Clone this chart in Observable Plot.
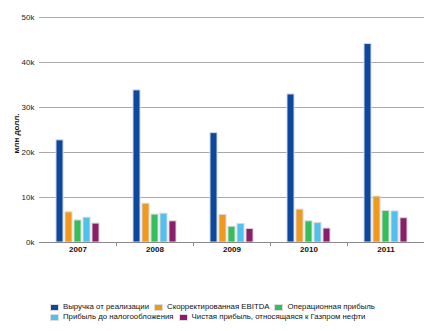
<!DOCTYPE html>
<html><head><meta charset="utf-8">
<script src="https://cdn.jsdelivr.net/npm/d3@7"></script>
<script src="https://cdn.jsdelivr.net/npm/@observablehq/plot@0.6"></script>
<style>
body{margin:0;background:#fff;font-family:"Liberation Sans",Arial,sans-serif;}
#wrap{position:relative;width:430px;height:331px;overflow:hidden;}
#legend{position:absolute;left:50px;top:302px;font-size:7.8px;color:#111;line-height:10px;}
.row{display:flex;white-space:nowrap;height:10px;}
.item{display:flex;align-items:center;margin-right:5px;}
.sw{width:9px;height:7px;margin-right:4px;border:1px solid #ddd;box-sizing:border-box;}
</style></head>
<body><div id="wrap"><div id="chart"></div><div id="legend"></div></div>
<script>
const years = ["2007","2008","2009","2010","2011"];
const series = ["Выручка от реализации","Скорректированная EBITDA","Операционная прибыль","Прибыль до налогообложения","Чистая прибыль, относящаяся к Газпром нефти"];
const colors = ["#0b48a0","#f0991b","#33bf5b","#50c1ef","#8c1d6b"];
const revenue = [22700,33800,24300,32900,44100];
const ebitda = [6700,8600,6100,7300,10200];
const operating = [4900,6200,3500,4700,7000];
const pretax = [5500,6400,4100,4300,6900];
const netIncome = [4200,4700,3000,3100,5400];
const yTicks = [0,10000,20000,30000,40000,50000];
const yLabel = "млн долл.";

const values = [revenue, ebitda, operating, pretax, netIncome];
const data = [];
years.forEach((y, i) => series.forEach((s, j) => data.push({year: y, series: s, value: values[j][i]})));

const plot = Plot.plot({
  width: 430, height: 270,
  marginLeft: 39, marginRight: 6, marginTop: 17, marginBottom: 28,
  style: {fontFamily: '"Liberation Sans", Arial, sans-serif', fontSize: "8px", color: "#222", background: "#fff"},
  fx: {domain: years, padding: 0, label: null, tickSize: 0, tickPadding: 4},
  x: {domain: series, axis: null, paddingInner: 0.25, paddingOuter: 0, insetLeft: 16, insetRight: 16},
  y: {domain: [0, 50000], ticks: yTicks, tickFormat: d => d/1000 + "k", label: null, tickSize: 0, tickPadding: 5},
  color: {domain: series, range: colors},
  marks: [
    Plot.ruleY(yTicks, {stroke: "#aaa", strokeWidth: 1}),
    Plot.barY(data, {fx: "year", x: "series", y: "value", fill: "series", stroke: "#d8d8d8", strokeWidth: 1}),
    Plot.ruleY([0], {stroke: "#8a8a8a", strokeWidth: 1.2})
  ]
});
document.getElementById("chart").appendChild(plot);
const svg = d3.select(plot);
svg.selectAll('[aria-label="fx-axis tick label"] text, [aria-label="fx-axis"] text').attr("font-weight", "bold").attr("fill", "#111");
// boundary ticks between year bands
const fx = plot.scale("fx");
const ys = plot.scale("y");
const y0 = ys.apply(0);
const g = svg.append("g").attr("stroke", "#8a8a8a");
years.slice(1).forEach(yr => {
  const xb = fx.apply(yr);
  g.append("line").attr("x1", xb + 0.5).attr("x2", xb + 0.5).attr("y1", y0).attr("y2", y0 + 4);
});
// y axis title
const yMid = (ys.apply(0) + ys.apply(50000)) / 2 + 4;
svg.append("text").attr("transform", `translate(19,${yMid}) rotate(-90)`).attr("text-anchor", "middle")
  .attr("font-weight", "bold").attr("font-size", "8px").attr("fill", "#111").text(yLabel);

const legend = document.getElementById("legend");
const rows = [[0,1,2],[3,4]];
rows.forEach(r => {
  const row = document.createElement("div"); row.className = "row";
  r.forEach(j => {
    const it = document.createElement("div"); it.className = "item";
    const sw = document.createElement("span"); sw.className = "sw"; sw.style.background = colors[j];
    it.appendChild(sw);
    it.appendChild(document.createTextNode(series[j]));
    row.appendChild(it);
  });
  legend.appendChild(row);
});
</script></body></html>
